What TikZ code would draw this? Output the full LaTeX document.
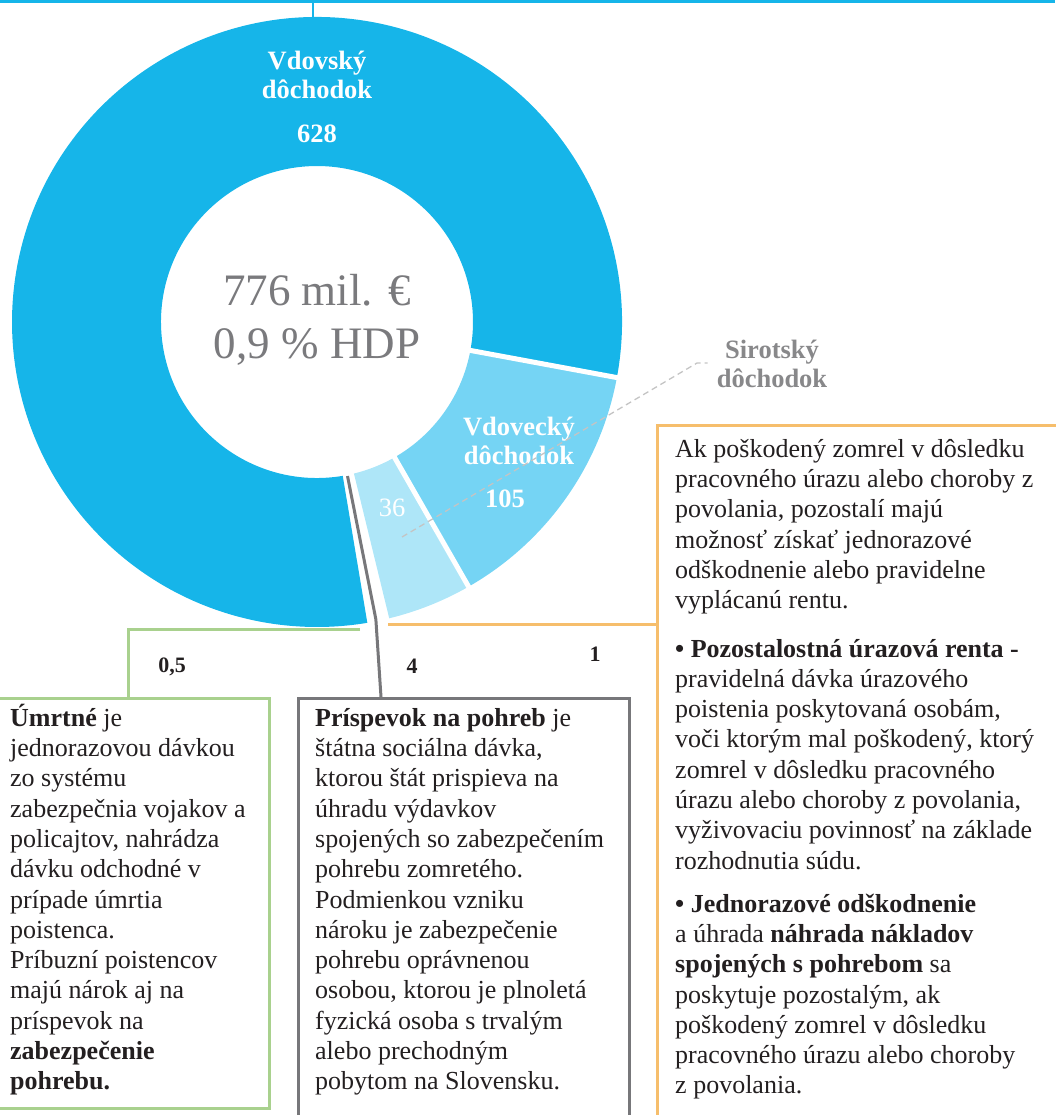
\documentclass[tikz,border=0pt]{standalone}
\usepackage{fontspec}
\setmainfont{Liberation Serif}
\usetikzlibrary{calc}
\definecolor{cyanA}{HTML}{16B5E9}
\definecolor{cyanB}{HTML}{75D4F4}
\definecolor{cyanC}{HTML}{AEE6F8}
\definecolor{grayL}{HTML}{77777A}
\definecolor{greenL}{HTML}{A9D18E}
\definecolor{orangeL}{HTML}{F6BE6C}
\definecolor{centerTxt}{HTML}{7A7A7D}
\definecolor{sirTxt}{HTML}{88888A}
\definecolor{dashC}{HTML}{C4C4C4}
\definecolor{bodyTxt}{HTML}{231F20}
\newcommand\fstrut{\rule{0pt}{24pt}}
\newcommand\lstrut{\rule{0pt}{20pt}}
\newcommand\cstrut{\rule{0pt}{34pt}}
\newcommand\dslice[3]{\fill[#1] ($(C)+(#2:305pt)$) arc[start angle=#2,end angle=#3,radius=305pt] -- ($(C)+(#3:156pt)$) arc[start angle=#3,end angle=#2,radius=156pt] -- cycle;}
\begin{document}
\begin{tikzpicture}[x=1pt,y=1pt,
  slicelbl/.style={font=\bfseries\fontsize{26.5}{29.5}\selectfont, text=white, align=center, inner sep=0pt},
  valuelbl/.style={font=\bfseries\fontsize{22}{26}\selectfont, text=bodyTxt, inner sep=0pt, anchor=base},
  bodytext/.style={font=\fontsize{26}{30.3}\selectfont, text=bodyTxt, align=left, inner sep=0pt, anchor=north west},
  infobox/.style={line width=3pt, minimum width=#1, inner sep=0pt, anchor=north west},
  sep/.style={white, line width=5pt},
  leader/.style={line width=3pt}]
\useasboundingbox (0,0) rectangle (1055,-1115);
\coordinate (C) at (317,-322);

% top rule and tick
\coordinate (topL) at (0,-1.5);
\coordinate (topR) at (1055,-1.5);
\coordinate (tickA) at (313,-1);
\coordinate (tickB) at (313,-19);
\draw[cyanA, line width=3pt] (topL) -- (topR);
\draw[cyanA, line width=2.5pt] (tickA) -- (tickB);

% donut slices
\dslice{cyanA}{-10.5}{279.5}
\dslice{cyanB}{-60.2}{-10.5}
\dslice{cyanC}{-76.3}{-60.2}
\draw[sep] ($(C)+(-10.5:150pt)$) -- ($(C)+(-10.5:312pt)$);
\draw[sep] ($(C)+(-60.2:150pt)$) -- ($(C)+(-60.2:312pt)$);

% boxes
\node[infobox=273pt, draw=greenL, minimum height=410pt] (gbox) at (-5,-697) {};
\node[infobox=331pt, draw=grayL, minimum height=430pt] (pbox) at (297,-697) {};
\node[infobox=420pt, draw=orangeL, minimum height=710pt] (obox) at (656,-424) {};

% leaders
\coordinate (gA) at (360,-629);
\coordinate (gB) at (128,-697);
\draw[greenL, leader] (gA) -| (gB);
\coordinate (pA) at ($(C)+(-78.8:157pt)$);
\coordinate (pB) at ($(C)+(-78.8:303pt)$);
\coordinate (pC) at (381,-697);
\draw[grayL, leader, line join=round] (pA) -- (pB) -- (pC);
\coordinate (oA) at (388,-624);
\coordinate (oB) at (656,-624);
\draw[orangeL, leader] (oA) -- (oB);

% slice labels
\node[slicelbl, anchor=north] (lvdovsky) at (317,-49) {\lstrut Vdovský\\dôchodok};
\node[slicelbl, anchor=base] (v628) at (317,-143) {628};
\node[slicelbl, anchor=north] (lvdovecky) at (519,-415) {\lstrut Vdovecký\\dôchodok};
\node[slicelbl, anchor=base] (v105) at (505,-507) {105};
\node[slicelbl, font=\fontsize{26.5}{29.5}\selectfont, anchor=base] (v36) at (392,-516) {36};
\node[font=\fontsize{45}{53}\selectfont, text=centerTxt, align=center, inner sep=0pt, anchor=north] (total) at (317,-271) {\cstrut 776 mil. €\\0,9 \% HDP};

% Sirotsky label and dashed leader
\node[slicelbl, text=sirTxt, anchor=north] (sir) at (772,-338) {\lstrut Sirotský\\dôchodok};
\coordinate (sA) at (402,-537);
\coordinate (sB) at (697,-363);
\draw[dashC, line width=1.3pt, dash pattern=on 6pt off 4pt] (sA) -- (sB) -- ($(sir.west)+(-9,0)$);

% values of small slices
\node[valuelbl] (v05) at (172,-672) {0,5};
\node[valuelbl] (v4) at (412,-673) {4};
\node[valuelbl] (v1) at (595,-661) {1};

% texts
\node[bodytext] (gtext) at (10,-702) {\fstrut\textbf{Úmrtné} je\\
jednorazovou dávkou\\
zo systému\\
zabezpečnia vojakov a\\
policajtov, nahrádza\\
dávku odchodné v\\
prípade úmrtia\\
poistenca.\\
Príbuzní poistencov\\
majú nárok aj na\\
príspevok na\\
\textbf{zabezpečenie}\\
\textbf{pohrebu.}};

\node[bodytext] (ptext) at (315,-702) {\fstrut\textbf{Príspevok na pohreb} je\\
štátna sociálna dávka,\\
ktorou štát prispieva na\\
úhradu výdavkov\\
spojených so zabezpečením\\
pohrebu zomretého.\\
Podmienkou vzniku\\
nároku je zabezpečenie\\
pohrebu oprávnenou\\
osobou, ktorou je plnoletá\\
fyzická osoba s trvalým\\
alebo prechodným\\
pobytom na Slovensku.};

\node[bodytext] (otext) at (675,-433) {\fstrut Ak poškodený zomrel v dôsledku\\
pracovného úrazu alebo choroby z\\
povolania, pozostalí majú\\
možnosť získať jednorazové\\
odškodnenie alebo pravidelne\\
vyplácanú rentu.\\[18pt]
\textbf{• Pozostalostná úrazová renta -}\\
pravidelná dávka úrazového\\
poistenia poskytovaná osobám,\\
voči ktorým mal poškodený, ktorý\\
zomrel v dôsledku pracovného\\
úrazu alebo choroby z povolania,\\
vyživovaciu povinnosť na základe\\
rozhodnutia súdu.\\[12.7pt]
\textbf{• Jednorazové odškodnenie}\\
a úhrada \textbf{náhrada nákladov}\\
\textbf{spojených s pohrebom} sa\\
poskytuje pozostalým, ak\\
poškodený zomrel v dôsledku\\
pracovného úrazu alebo choroby\\
z povolania.};
\end{tikzpicture}
\end{document}
